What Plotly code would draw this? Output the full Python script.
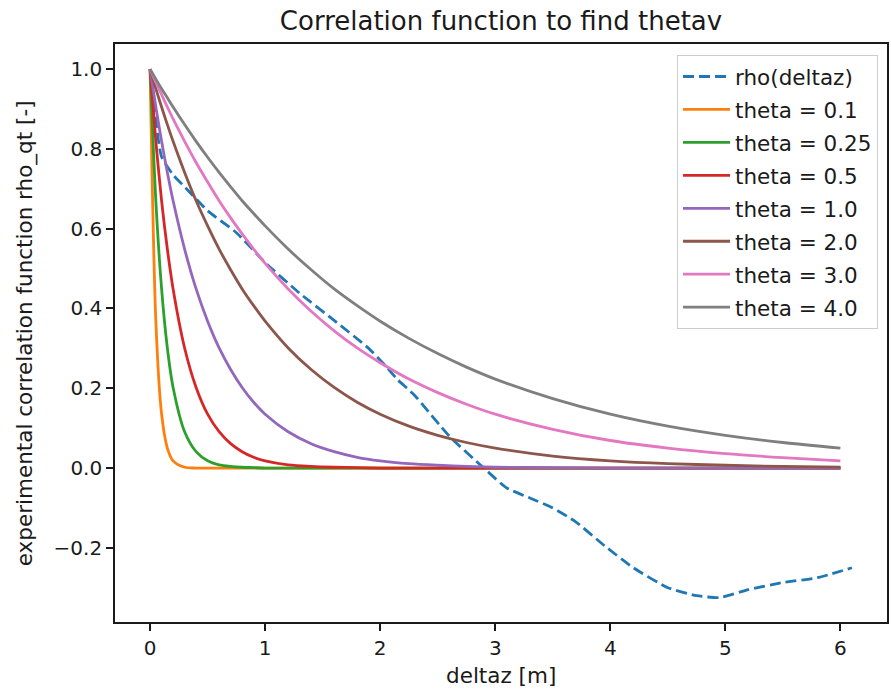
import plotly.graph_objects as go

# ---- data ----
rho_x = [0.0, 0.1, 0.2, 0.3, 0.5, 0.75, 1.0, 1.3, 1.6, 1.9, 2.05, 2.15, 2.3, 2.6, 2.9,
         3.1, 3.3, 3.5, 3.7, 3.95, 4.2, 4.5, 4.75, 4.95, 5.2, 5.5, 5.8, 6.1]
rho_y = [1.0, 0.78, 0.735, 0.705, 0.645, 0.59, 0.515, 0.438, 0.37, 0.30, 0.255, 0.222, 0.182, 0.08, 0.0,
         -0.05, -0.075, -0.10, -0.135, -0.195, -0.25, -0.30, -0.32, -0.325, -0.305, -0.287, -0.275, -0.25]

theta_x = [0.0, 0.05, 0.1, 0.15, 0.2, 0.3, 0.4, 0.5, 0.6, 0.7, 0.8, 0.9, 1.0, 1.2, 1.4, 1.6, 1.8,
           2.0, 2.25, 2.5, 2.75, 3.0, 3.5, 4.0, 4.5, 5.0, 5.5, 6.0]

theta_labels = ["theta = 0.1", "theta = 0.25", "theta = 0.5", "theta = 1.0",
                "theta = 2.0", "theta = 3.0", "theta = 4.0"]

theta_01 = [1.0, 0.368, 0.135, 0.050, 0.018, 0.002, 0.0, 0.0, 0.0, 0.0, 0.0, 0.0, 0.0, 0.0, 0.0, 0.0, 0.0,
            0.0, 0.0, 0.0, 0.0, 0.0, 0.0, 0.0, 0.0, 0.0, 0.0, 0.0]
theta_025 = [1.0, 0.670, 0.449, 0.301, 0.202, 0.091, 0.041, 0.018, 0.008, 0.004, 0.002, 0.001, 0.0, 0.0, 0.0, 0.0, 0.0,
             0.0, 0.0, 0.0, 0.0, 0.0, 0.0, 0.0, 0.0, 0.0, 0.0, 0.0]
theta_05 = [1.0, 0.819, 0.670, 0.549, 0.449, 0.301, 0.202, 0.135, 0.091, 0.061, 0.041, 0.027, 0.018, 0.008, 0.004, 0.002, 0.001,
            0.0, 0.0, 0.0, 0.0, 0.0, 0.0, 0.0, 0.0, 0.0, 0.0, 0.0]
theta_1 = [1.0, 0.905, 0.819, 0.741, 0.670, 0.549, 0.449, 0.368, 0.301, 0.247, 0.202, 0.165, 0.135, 0.091, 0.061, 0.041, 0.027,
           0.018, 0.011, 0.007, 0.004, 0.002, 0.001, 0.0, 0.0, 0.0, 0.0, 0.0]
theta_2 = [1.0, 0.951, 0.905, 0.861, 0.819, 0.741, 0.670, 0.607, 0.549, 0.497, 0.449, 0.407, 0.368, 0.301, 0.247, 0.202, 0.165,
           0.135, 0.105, 0.082, 0.064, 0.050, 0.030, 0.018, 0.011, 0.007, 0.004, 0.0025]
theta_3 = [1.0, 0.967, 0.936, 0.905, 0.875, 0.819, 0.766, 0.717, 0.670, 0.627, 0.587, 0.549, 0.513, 0.449, 0.393, 0.344, 0.301,
           0.264, 0.223, 0.189, 0.160, 0.135, 0.097, 0.069, 0.050, 0.036, 0.026, 0.018]
theta_4 = [1.0, 0.975, 0.951, 0.928, 0.905, 0.861, 0.819, 0.779, 0.741, 0.705, 0.670, 0.638, 0.607, 0.549, 0.497, 0.449, 0.407,
           0.368, 0.325, 0.287, 0.253, 0.223, 0.174, 0.135, 0.105, 0.082, 0.064, 0.050]

theta_series = [theta_01, theta_025, theta_05, theta_1, theta_2, theta_3, theta_4]
theta_colors = ["#ff7f0e", "#2ca02c", "#d62728", "#9467bd", "#8c564b", "#e377c2", "#7f7f7f"]

x_ticks = [0, 1, 2, 3, 4, 5, 6]
y_ticks = [-0.2, 0.0, 0.2, 0.4, 0.6, 0.8, 1.0]
y_ticktext = ["\u22120.2", "0.0", "0.2", "0.4", "0.6", "0.8", "1.0"]

FONT = "DejaVu Sans"
TXT = "#1a1a1a"

fig = go.Figure()
fig.add_trace(go.Scatter(x=rho_x, y=rho_y, mode="lines", name="rho(deltaz)", legendgroup="g0",
                         line=dict(color="#1f77b4", width=2.8, dash="11px,5px", shape="spline", smoothing=0.5)))
for i, (lbl, ys, col) in enumerate(zip(theta_labels, theta_series, theta_colors)):
    fig.add_trace(go.Scatter(x=theta_x, y=ys, mode="lines", name=lbl, legendgroup=f"g{i+1}",
                             line=dict(color=col, width=2.8, shape="spline", smoothing=0.8)))

axis_common = dict(showline=True, linecolor=TXT, linewidth=1.6, mirror=True,
                   ticks="outside", ticklen=7, tickwidth=1.6, tickcolor=TXT,
                   showgrid=False, zeroline=False, ticklabelstandoff=0,
                   tickfont=dict(family=FONT, size=20, color=TXT))

fig.update_layout(
    width=891, height=695,
    margin=dict(l=115, r=2, t=44, b=73),
    paper_bgcolor="white", plot_bgcolor="white",
    font=dict(family=FONT, size=20, color=TXT),
    title=dict(text="Correlation function to find thetav", x=0.5, xref="paper",
               y=1 - 21 / 695, yref="container", yanchor="middle", xanchor="center",
               font=dict(family=FONT, size=26, color=TXT)),
    xaxis=dict(range=[-0.305, 6.405], tickvals=x_ticks, ticktext=[str(v) for v in x_ticks], **axis_common),
    yaxis=dict(range=[-0.386, 1.063], tickvals=y_ticks, ticktext=y_ticktext, **axis_common),
    legend=dict(x=(880 - 115) / 774, y=(622 - 55) / 578, xanchor="right", yanchor="top",
                bgcolor="rgba(255,255,255,0.8)", bordercolor="#cccccc", borderwidth=1,
                font=dict(family=FONT, size=21.5, color=TXT), itemwidth=47,
                tracegroupgap=2),
    showlegend=True,
    annotations=[
        dict(text="deltaz [m]", x=0.5, xref="paper", y=-(675 - 622) / (622 - 44), yref="paper",
             showarrow=False, xanchor="center", yanchor="middle",
             font=dict(family=FONT, size=21.5, color=TXT)),
        dict(text="experimental correlation function rho_qt [-]", x=(25 - 115) / (889 - 115), xref="paper",
             y=0.5, yref="paper", showarrow=False, textangle=-90,
             xanchor="center", yanchor="middle",
             font=dict(family=FONT, size=21.5, color=TXT)),
    ],
)

fig.write_html("out.html")
